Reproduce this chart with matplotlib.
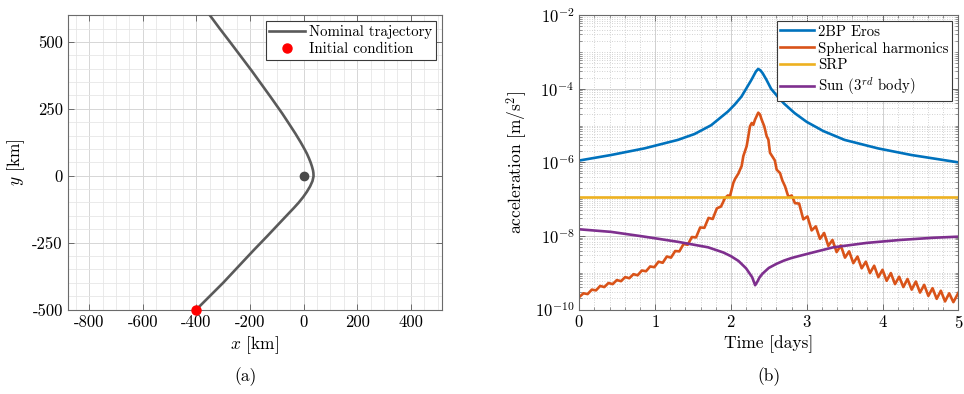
import numpy as np
import matplotlib
matplotlib.use("Agg")
import matplotlib.pyplot as plt
from matplotlib.ticker import (MultipleLocator, LogLocator, NullFormatter,
                               StrMethodFormatter)

plt.rcParams["font.family"] = ["cmr10", "DejaVu Serif"]
plt.rcParams["mathtext.fontset"] = "cm"
plt.rcParams["axes.unicode_minus"] = False
plt.rcParams["axes.formatter.use_mathtext"] = True

# ---- (a) flyby trajectory in the x-y plane [km] ----
traj_x = [-400, -350, -300, -244, -186, -135, -88, -55, -36, -18, -2, 12, 24,
          33, 37, 36.5, 35, 31, 26, 20, 12, 3, -11, -31, -55, -80, -120, -156,
          -192, -225, -277, -313, -350]
traj_y = [-500, -450, -400, -340, -278, -225, -175, -140, -120, -100, -80, -60,
          -40, -20, -2, 10, 20, 35, 50, 65, 83, 100, 125, 158, 195, 233, 290,
          340, 390, 434, 503, 550, 600]
init_x, init_y = [-400], [-500]
body_x, body_y = [0], [0]

# ---- (b) perturbing accelerations vs time, log10 of [m/s^2] ----
t_2bp = [0, 0.42, 0.86, 1.30, 1.52, 1.74, 1.96, 2.05, 2.14, 2.27, 2.33, 2.36,
         2.39, 2.42, 2.47, 2.53, 2.62, 2.70, 2.84, 3.00, 3.22, 3.50, 3.94, 4.38,
         5.00]
log_2bp = [-5.95, -5.80, -5.62, -5.39, -5.23, -4.99, -4.62, -4.43, -4.21, -3.76,
           -3.53, -3.46, -3.50, -3.58, -3.76, -4.00, -4.22, -4.40, -4.66, -4.90,
           -5.15, -5.39, -5.62, -5.80, -6.00]

t_sh = [0.000, 0.055, 0.110, 0.165, 0.220, 0.275, 0.330, 0.385, 0.440, 0.495,
        0.550, 0.605, 0.660, 0.715, 0.770, 0.825, 0.880, 0.935, 0.990, 1.045,
        1.100, 1.155, 1.210, 1.265, 1.320, 1.375, 1.430, 1.485, 1.540, 1.595,
        1.650, 1.705, 1.760, 1.815, 1.870,
        1.922, 1.960, 1.988, 2.032, 2.055, 2.076, 2.100, 2.120, 2.142, 2.164,
        2.208, 2.252, 2.275, 2.296, 2.318, 2.361, 2.384, 2.406, 2.440, 2.472,
        2.494, 2.516, 2.559, 2.580, 2.604, 2.648, 2.680, 2.714, 2.757, 2.780,
        2.802, 2.845,
        2.900, 2.955, 3.010, 3.065, 3.120, 3.175, 3.230, 3.285, 3.340, 3.395,
        3.450, 3.505, 3.560, 3.615, 3.670, 3.725, 3.780, 3.835, 3.890, 3.945,
        4.000, 4.055, 4.110, 4.165, 4.220, 4.275, 4.330, 4.385, 4.440, 4.495,
        4.550, 4.605, 4.660, 4.715, 4.770, 4.825, 4.880, 4.935, 5.000]
log_sh = [-9.66, -9.56, -9.58, -9.46, -9.48, -9.36, -9.39, -9.28, -9.31, -9.20,
          -9.23, -9.12, -9.15, -9.04, -9.07, -8.94, -8.96, -8.83, -8.85, -8.70,
          -8.73, -8.56, -8.59, -8.41, -8.42, -8.22, -8.24, -8.03, -8.04, -7.77,
          -7.78, -7.51, -7.54, -7.25, -7.20,
          -6.97, -6.90, -6.92, -6.56, -6.45, -6.38, -6.30, -6.20, -6.10, -5.83,
          -5.56, -5.02, -4.93, -4.98, -4.84, -4.65, -4.70, -4.84, -5.02, -5.29,
          -5.38, -5.74, -5.88, -5.95, -6.20, -6.29, -6.50, -6.65, -6.93, -6.92,
          -6.90, -7.11,
          -7.12, -7.55, -7.47, -7.85, -7.74, -8.08, -7.92, -8.27, -8.11, -8.44,
          -8.26, -8.59, -8.42, -8.74, -8.56, -8.88, -8.70, -9.01, -8.81, -9.12,
          -8.92, -9.22, -9.01, -9.31, -9.11, -9.39, -9.17, -9.46, -9.24, -9.54,
          -9.33, -9.63, -9.42, -9.71, -9.49, -9.78, -9.56, -9.80, -9.55]

t_srp = [0, 5]
log_srp = [-6.95, -6.95]

t_sun = [0, 0.42, 0.86, 1.30, 1.70, 1.90, 2.00, 2.10, 2.20, 2.28, 2.32, 2.35,
         2.38, 2.42, 2.50, 2.60, 2.70, 2.80, 2.91, 3.10, 3.35, 3.79, 4.23, 4.67,
         5.00]
log_sun = [-7.82, -7.89, -8.02, -8.16, -8.31, -8.45, -8.55, -8.68, -8.88, -9.12,
           -9.34, -9.24, -9.12, -9.02, -8.87, -8.76, -8.67, -8.60, -8.54, -8.44,
           -8.31, -8.19, -8.11, -8.05, -8.02]

W, H = 964, 394
fig = plt.figure(figsize=(W / 100, H / 100), dpi=100)

tick_fs = 12
label_fs = 12.5
leg_fs = 10.7
spine_c = "#6b6b6b"

# ---------------- panel (a) ----------------
ax1 = fig.add_axes([67.7 / W, 84.5 / H, 374 / W, 294.3 / H])
ax1.plot(traj_x, traj_y, color="#5a5a5a", lw=1.9, label="Nominal trajectory",
         zorder=3)
ax1.plot(body_x, body_y, "o", color="#4a4a4a", ms=6, zorder=4)
ax1.plot(init_x, init_y, "o", color="#ff0000", ms=6.5, clip_on=False,
         zorder=5, label="Initial condition")
ax1.set_xlim(-880, 515)
ax1.set_ylim(-500, 600)
ax1.set_xticks(np.arange(-800, 401, 200))
ax1.set_yticks(np.arange(-500, 501, 250))
ax1.xaxis.set_major_formatter(StrMethodFormatter("{x:.0f}"))
ax1.yaxis.set_major_formatter(StrMethodFormatter("{x:.0f}"))
ax1.xaxis.set_minor_locator(MultipleLocator(50))
ax1.yaxis.set_minor_locator(MultipleLocator(50))
ax1.grid(which="major", color="#d6d6d6", lw=0.7, zorder=0)
ax1.grid(which="minor", color="#e6e6e6", lw=0.6, zorder=0)
ax1.set_axisbelow(True)
ax1.tick_params(which="both", direction="in", top=True, right=True,
                labelsize=tick_fs, color=spine_c)
ax1.tick_params(which="major", length=4, width=0.7)
ax1.tick_params(which="minor", length=0)
for s in ax1.spines.values():
    s.set_color(spine_c)
    s.set_linewidth(0.8)
ax1.set_xlabel("$x$ [km]", fontsize=label_fs, labelpad=3)
ax1.set_ylabel("$y$ [km]", fontsize=label_fs, labelpad=4)
leg1 = ax1.legend(loc="upper right", fontsize=leg_fs, fancybox=False,
                  framealpha=1, edgecolor="#3a3a3a", handlelength=2.4,
                  handletextpad=0.25, borderpad=0.25, labelspacing=0.25,
                  borderaxespad=0.4, numpoints=1)
leg1.get_frame().set_linewidth(0.8)

# ---------------- panel (b) ----------------
ax2 = fig.add_axes([579.3 / W, 84.5 / H, 379 / W, 294.3 / H])
ax2.semilogy(t_2bp, 10.0 ** np.array(log_2bp), color="#0072BD", lw=1.9,
             label="2BP Eros")
ax2.semilogy(t_sh, 10.0 ** np.array(log_sh), color="#D95319", lw=1.9,
             label="Spherical harmonics")
ax2.semilogy(t_srp, 10.0 ** np.array(log_srp), color="#EDB120", lw=1.9,
             label="SRP")
ax2.semilogy(t_sun, 10.0 ** np.array(log_sun), color="#7E2F8E", lw=1.9,
             label="Sun (3$^{rd}$ body)")
ax2.set_xlim(0, 5)
ax2.set_ylim(1e-10, 1e-2)
ax2.set_xticks(np.arange(0, 6, 1))
ax2.set_yticks([1e-10, 1e-8, 1e-6, 1e-4, 1e-2])
ax2.xaxis.set_minor_locator(MultipleLocator(0.2))
ax2.yaxis.set_minor_locator(LogLocator(base=10, subs=np.arange(1, 10),
                                       numticks=100))
ax2.yaxis.set_minor_formatter(NullFormatter())
ax2.grid(which="major", color="#d0d0d0", lw=0.7, zorder=0)
ax2.grid(which="minor", color="#c4c4c4", lw=0.6, ls=(0, (1, 2)), zorder=0)
ax2.set_axisbelow(True)
ax2.tick_params(which="both", direction="in", top=True, right=True,
                labelsize=tick_fs, color=spine_c)
ax2.tick_params(which="major", length=4, width=0.7)
ax2.tick_params(which="minor", length=2, width=0.5)
for s in ax2.spines.values():
    s.set_color(spine_c)
    s.set_linewidth(0.8)
ax2.set_xlabel("Time [days]", fontsize=label_fs, labelpad=3)
ax2.set_ylabel("acceleration [m/s$^2$]", fontsize=label_fs, labelpad=4)
leg2 = ax2.legend(loc="upper right", fontsize=leg_fs, fancybox=False,
                  framealpha=1, edgecolor="#3a3a3a", handlelength=2.3,
                  handletextpad=0.25, borderpad=0.25, labelspacing=0.2,
                  borderaxespad=0.4)
leg2.get_frame().set_linewidth(0.8)

# panel captions
fig.text(246 / W, 1 - 377 / H, "(a)", ha="center", va="center", fontsize=12.5)
fig.text(769 / W, 1 - 377 / H, "(b)", ha="center", va="center", fontsize=12.5)

fig.savefig("out.png", dpi=100)
